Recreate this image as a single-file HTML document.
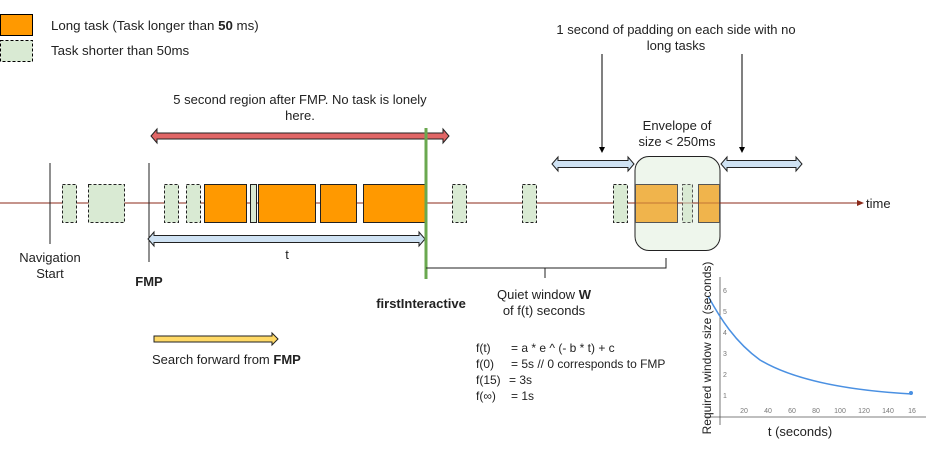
<!DOCTYPE html>
<html><head><meta charset="utf-8"><style>
html,body{margin:0;padding:0;background:#fff;}
svg{display:block;font-family:"Liberation Sans",Arial,sans-serif;}
</style></head><body>
<svg width="926" height="452" viewBox="0 0 926 452" xmlns="http://www.w3.org/2000/svg">
<!-- legend -->
<rect x="0.5" y="14.5" width="32" height="21" fill="#ff9900" stroke="#000"/>
<rect x="0.5" y="40.5" width="32" height="21" fill="#d9ead3" stroke="#000" stroke-dasharray="3,2"/>
<text x="51" y="30" font-size="13.3" fill="#222">Long task (Task longer than <tspan font-weight="bold">50</tspan> ms)</text>
<text x="51" y="55" font-size="13.3" fill="#222">Task shorter than 50ms</text>

<!-- top texts -->
<text x="300" y="104" font-size="13" text-anchor="middle" fill="#222">5 second region after FMP. No task is lonely</text>
<text x="300" y="120" font-size="13" text-anchor="middle" fill="#222">here.</text>
<text x="676" y="34" font-size="13" text-anchor="middle" fill="#222">1 second of padding on each side with no</text>
<text x="676" y="50" font-size="13" text-anchor="middle" fill="#222">long tasks</text>
<text x="677" y="130" font-size="13" text-anchor="middle" fill="#222">Envelope of</text>
<text x="677" y="146" font-size="13" text-anchor="middle" fill="#222">size &lt; 250ms</text>

<!-- down arrows -->
<line x1="602" y1="54" x2="602" y2="148" stroke="#000"/>
<polygon points="599,147 605,147 602,153" fill="#000"/>
<line x1="742" y1="54" x2="742" y2="148" stroke="#000"/>
<polygon points="739,147 745,147 742,153" fill="#000"/>

<!-- red double arrow -->
<polygon points="151,136 157,129 157,133 443,133 443,129 449,136 443,143 443,139 157,139 157,143" fill="#e06666" stroke="#222" stroke-width="1"/>

<!-- envelope -->
<rect x="635" y="156.5" width="85" height="94" rx="14" fill="#eef6ec" stroke="#222"/>

<!-- axis -->
<line x1="0" y1="203" x2="860" y2="203" stroke="#8b2a1a" stroke-width="1"/>
<polygon points="857,200 864,203 857,206" fill="#8b2a1a"/>
<text x="866" y="208" font-size="13" fill="#222">time</text>

<!-- nav start & FMP lines -->
<line x1="50" y1="163" x2="50" y2="244" stroke="#222"/>
<line x1="149" y1="163" x2="149" y2="262" stroke="#222"/>

<!-- short tasks -->
<g fill="#d9ead3" stroke="#222" stroke-dasharray="3,2">
<rect x="62.5" y="184.5" width="14" height="38"/>
<rect x="88.5" y="184.5" width="36" height="38"/>
<rect x="164.5" y="184.5" width="14" height="38"/>
<rect x="186.5" y="184.5" width="14" height="38"/>
<rect x="452.5" y="184.5" width="14" height="38"/>
<rect x="522.5" y="184.5" width="14" height="38"/>
<rect x="613.5" y="184.5" width="14" height="38"/>
<rect x="682.5" y="184.5" width="10" height="38" stroke="#555"/>
</g>
<!-- long tasks -->
<g fill="#ff9900" stroke="#222">
<rect x="204.5" y="184.5" width="42" height="38"/>
<rect x="258.5" y="184.5" width="57" height="38"/>
<rect x="320.5" y="184.5" width="36" height="38"/>
<rect x="363.5" y="184.5" width="62" height="38"/>
</g>
<rect x="250.5" y="184.5" width="6" height="38" fill="#d9ead3" stroke="#222"/>
<g fill="#f0b44c" stroke="#555">
<rect x="635.5" y="184.5" width="42" height="38"/>
<rect x="698.5" y="184.5" width="21" height="38"/>
</g>
<line x1="635" y1="203" x2="720" y2="203" stroke="#8b2a1a" stroke-width="0.8" opacity="0.6"/>

<!-- blue arrows -->
<g fill="#cfe2f3" stroke="#222" stroke-width="1">
<polygon points="148,239 154,232 154,235.5 419,235.5 419,232 425,239 419,246 419,242.5 154,242.5 154,246"/>
<polygon points="552,164 558,157 558,160.5 628,160.5 628,157 634,164 628,171 628,167.5 558,167.5 558,171"/>
<polygon points="721,164 727,157 727,160.5 796,160.5 796,157 802,164 796,171 796,167.5 727,167.5 727,171"/>
</g>
<text x="287" y="259" font-size="13" text-anchor="middle" fill="#222">t</text>

<!-- green firstInteractive line -->
<line x1="426" y1="128" x2="426" y2="279" stroke="#6aa84f" stroke-width="3"/>

<!-- bracket -->
<polyline points="426,268 666,268 666,258" fill="none" stroke="#222"/>
<line x1="545" y1="268" x2="545" y2="278" stroke="#222"/>

<!-- labels -->
<text x="50" y="262" font-size="13" text-anchor="middle" fill="#222">Navigation</text>
<text x="50" y="278" font-size="13" text-anchor="middle" fill="#222">Start</text>
<text x="149" y="286" font-size="13" text-anchor="middle" font-weight="bold" fill="#222">FMP</text>
<text x="421" y="308" font-size="13" text-anchor="middle" font-weight="bold" fill="#222">firstInteractive</text>
<text x="544" y="299" font-size="13" text-anchor="middle" fill="#222">Quiet window <tspan font-weight="bold">W</tspan></text>
<text x="544" y="315" font-size="13" text-anchor="middle" fill="#222">of f(t) seconds</text>

<!-- yellow arrow -->
<polygon points="154,336 272,336 272,333 278,339 272,345 272,342 154,342" fill="#ffd966" stroke="#222" stroke-width="1"/>
<text x="152" y="364" font-size="13" fill="#222">Search forward from <tspan font-weight="bold">FMP</tspan></text>

<!-- formulas -->
<g font-size="12" fill="#222">
<text x="476" y="352">f(t)</text><text x="511" y="352">= a * e ^ (- b * t) + c</text>
<text x="476" y="368">f(0)</text><text x="511" y="368">= 5s  // 0 corresponds to FMP</text>
<text x="476" y="384">f(15)</text><text x="509" y="384">= 3s</text>
<text x="476" y="400">f(∞)</text><text x="511" y="400">= 1s</text>
</g>

<!-- chart -->
<line x1="720" y1="277" x2="720" y2="425" stroke="#555" stroke-width="0.8"/>
<line x1="705" y1="417" x2="926" y2="417" stroke="#555" stroke-width="0.8"/>
<g font-size="7" fill="#777">
<text x="723" y="293">6</text><text x="723" y="314">5</text><text x="723" y="335">4</text>
<text x="723" y="356">3</text><text x="723" y="377">2</text><text x="723" y="398">1</text>
<text x="744" y="413" text-anchor="middle">20</text><text x="768" y="413" text-anchor="middle">40</text>
<text x="792" y="413" text-anchor="middle">60</text><text x="816" y="413" text-anchor="middle">80</text>
<text x="840" y="413" text-anchor="middle">100</text><text x="864" y="413" text-anchor="middle">120</text>
<text x="888" y="413" text-anchor="middle">140</text><text x="912" y="413" text-anchor="middle">16</text>
</g>
<path d="M708,296 C720,318 735,342 760,360 C790,378 840,390 912,394" fill="none" stroke="#4a90e2" stroke-width="1.5"/>
<circle cx="911" cy="393" r="2" fill="#4a90e2"/>
<text x="800" y="436" font-size="13" text-anchor="middle" fill="#222">t (seconds)</text>
<text transform="translate(711,348) rotate(-90)" font-size="12" text-anchor="middle" fill="#222">Required window size (seconds)</text>
</svg>
</body></html>
